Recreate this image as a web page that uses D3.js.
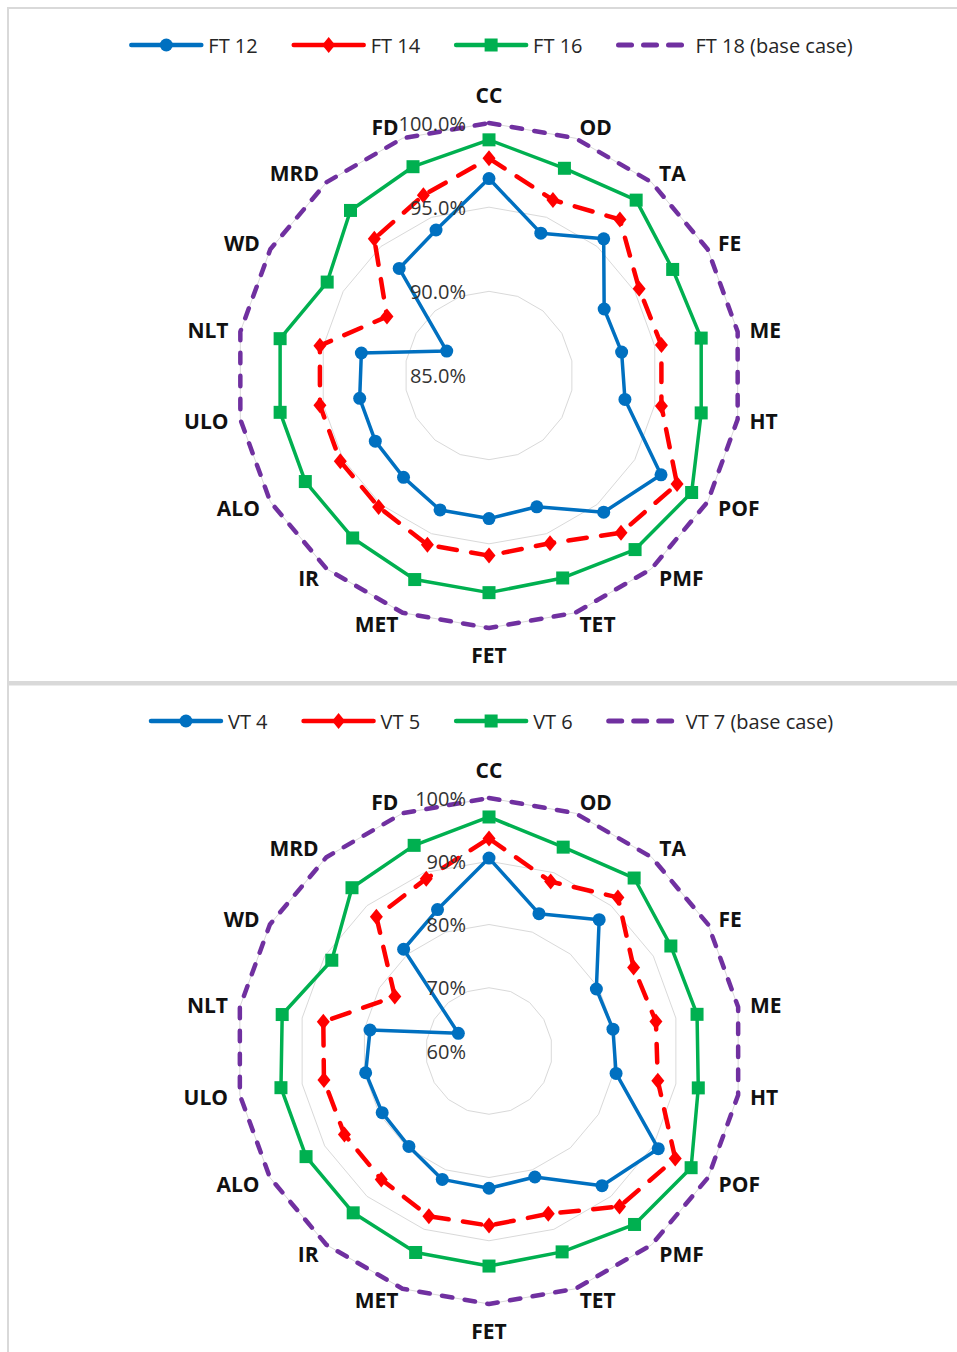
<!DOCTYPE html>
<html><head><meta charset="utf-8">
<script src="https://cdn.jsdelivr.net/npm/d3@7"></script>
<style>body{margin:0;background:#fff;} svg{display:block;}</style>
</head><body>
<svg id="chart" width="957" height="1352"></svg>
<script>
// ---------- DATA ----------
const categories = ["CC","OD","TA","FE","ME","HT","POF","PMF","TET","FET","MET","IR","ALO","ULO","NLT","WD","MRD","FD"];

const ftNames = ["FT 12","FT 14","FT 16","FT 18 (base case)"];
const ft12 = [96.7, 94.0, 95.6, 92.9, 93.0, 93.2, 96.8, 95.6, 93.3, 93.5, 93.5, 92.9, 92.8, 92.8, 92.7, 87.9, 93.3, 94.2];
const ft14 = [97.9, 96.1, 97.1, 95.3, 95.4, 95.4, 97.9, 97.2, 95.6, 95.7, 95.7, 95.2, 95.2, 95.2, 95.2, 92.0, 95.6, 96.4];
const ft16 = [99.0, 98.1, 98.6, 97.6, 97.8, 97.8, 98.9, 98.5, 97.8, 97.9, 97.9, 97.6, 97.6, 97.6, 97.6, 96.1, 97.8, 98.2];
const ft18 = [100, 100, 100, 100, 100, 100, 100, 100, 100, 100, 100, 100, 100, 100, 100, 100, 100, 100];
const ftTicks = [85, 90, 95, 100];
const ftTickLabels = ["85.0%", "90.0%", "95.0%", "100.0%"];

const vtNames = ["VT 4","VT 5","VT 6","VT 7 (base case)"];
const vt4 = [90.5, 83.1, 87.1, 79.6, 79.9, 80.4, 90.9, 87.8, 81.2, 81.7, 81.6, 79.7, 79.5, 79.8, 79.1, 65.6, 81.0, 83.8];
const vt5 = [93.6, 88.5, 91.7, 86.4, 86.8, 87.1, 94.0, 92.1, 87.4, 87.6, 87.8, 86.5, 86.4, 86.5, 86.6, 77.2, 87.7, 89.0];
const vt6 = [97.0, 94.3, 95.7, 93.2, 93.4, 93.6, 96.9, 95.8, 93.8, 94.0, 93.9, 93.4, 93.4, 93.4, 93.2, 88.7, 93.7, 94.6];
const vt7 = [100, 100, 100, 100, 100, 100, 100, 100, 100, 100, 100, 100, 100, 100, 100, 100, 100, 100];
const vtTicks = [60, 70, 80, 90, 100];
const vtTickLabels = ["60%", "70%", "80%", "90%", "100%"];

// ---------- STYLE ----------
const styles = [
  {color:"#0070C0", width:3.5, dash:null, marker:"circle"},
  {color:"#FF0000", width:4.5, dash:"18.5,14.5", marker:"diamond"},
  {color:"#00B050", width:3.5, dash:null, marker:"square"},
  {color:"#7030A0", width:4.5, dash:"10.5,12.5", marker:"none"}
];
const FONT = "'Open Sans', 'Liberation Sans', sans-serif";

const svg = d3.select("#chart");

// panels
svg.append("rect").attr("x",0).attr("y",0).attr("width",957).attr("height",1352).attr("fill","#fff");
svg.append("line").attr("x1",8).attr("x2",957).attr("y1",8).attr("y2",8).attr("stroke","#d9d9d9").attr("stroke-width",2);
svg.append("line").attr("x1",8).attr("x2",8).attr("y1",7).attr("y2",1352).attr("stroke","#d9d9d9").attr("stroke-width",2);
svg.append("rect").attr("x",8).attr("y",681).attr("width",949).attr("height",4.5).attr("fill","#d9d9d9");

function drawMarker(g, type, x, y, color) {
  if (type === "circle") {
    g.append("circle").attr("cx",x).attr("cy",y).attr("r",6.5).attr("fill",color);
  } else if (type === "square") {
    g.append("rect").attr("x",x-6.5).attr("y",y-6.5).attr("width",13).attr("height",13).attr("fill",color);
  } else if (type === "diamond") {
    g.append("path").attr("d",`M${x},${y-8}L${x+6.5},${y}L${x},${y+8}L${x-6.5},${y}Z`).attr("fill",color);
  }
}

function radar(cfg) {
  const {cx, cy, R, domain, ticks, tickLabels, names, series, legendY, legendCX} = cfg;
  const g = svg.append("g");
  const r = d3.scaleLinear().domain(domain).range([0, R]);
  const angle = d3.scalePoint().domain(categories).range([0, 2*Math.PI * (categories.length-1)/categories.length]);

  // grid polygons
  const gridLine = d3.lineRadial().angle(d => angle(d)).curve(d3.curveLinearClosed);
  ticks.filter(t => t > domain[0]).forEach(t => {
    g.append("path")
      .attr("d", gridLine.radius(() => r(t))(categories))
      .attr("transform", `translate(${cx},${cy})`)
      .attr("fill","none").attr("stroke","#d9d9d9").attr("stroke-width",1);
  });

  // series
  series.forEach((vals, si) => {
    const st = styles[si];
    const line = d3.lineRadial()
      .angle((d,i) => angle(categories[i]))
      .radius(d => r(d))
      .curve(d3.curveLinearClosed);
    g.append("path")
      .attr("d", line(vals))
      .attr("transform", `translate(${cx},${cy})`)
      .attr("fill","none")
      .attr("stroke", st.color)
      .attr("stroke-width", st.width)
      .attr("stroke-linecap", "round")
      .attr("stroke-linejoin","round")
      .attr("stroke-dasharray", st.dash);
    vals.forEach((v,i) => {
      const a = angle(categories[i]);
      const x = cx + r(v)*Math.sin(a), y = cy - r(v)*Math.cos(a);
      drawMarker(g, st.marker, x, y, st.color);
    });
  });

  // category labels
  const lr = R + 12;
  categories.forEach(c => {
    const a = angle(c);
    const s = Math.sin(a), co = Math.cos(a);
    const x = cx + lr*s, y = cy - lr*co;
    const t = g.append("text").text(c)
      .attr("font-family", FONT).attr("font-weight", 700).attr("font-size", 21)
      .attr("fill", "#111");
    if (Math.abs(s) < 1e-6) {
      t.attr("x", x).attr("text-anchor","middle")
       .attr("y", co > 0 ? y - 16 : y + 15).attr("dominant-baseline","central");
    } else {
      t.attr("x", x).attr("y", y).attr("dominant-baseline","central")
       .attr("text-anchor", s > 0 ? "start" : "end");
    }
  });

  // tick labels
  ticks.forEach((t, i) => {
    g.append("text").text(tickLabels[i])
      .attr("x", cx - 23).attr("y", cy - r(t))
      .attr("text-anchor","end").attr("dominant-baseline","central")
      .attr("font-family", FONT).attr("font-size", 20).attr("fill","#333");
  });

  // legend
  const lg = svg.append("g");
  const items = [];
  let xPos = 0;
  const GAP = 36;
  names.forEach((n, i) => {
    const it = lg.append("g");
    const st = styles[i];
    it.append("line").attr("x1", 0).attr("x2", 70).attr("y1", 0).attr("y2", 0)
      .attr("stroke", st.color).attr("stroke-width", i === 3 ? 5 : 4.5)
      .attr("stroke-linecap", "round")
      .attr("stroke-dasharray", i === 3 ? "13,12" : null);
    drawMarker(it, st.marker, 35, 0, st.color);
    const tx = it.append("text").text(n).attr("x", 77).attr("y", 0)
      .attr("dominant-baseline","central")
      .attr("font-family", FONT).attr("font-size", 20).attr("fill","#262626");
    const w = 77 + tx.node().getComputedTextLength();
    items.push({it, x: xPos});
    xPos += w + GAP;
  });
  const total = xPos - GAP;
  const start = legendCX - total/2;
  items.forEach(d => d.it.attr("transform", `translate(${start + d.x},${legendY})`));
}

radar({cx:489, cy:375.5, R:252.5, domain:[85,100], ticks:ftTicks, tickLabels:ftTickLabels,
       names:ftNames, series:[ft12, ft14, ft16, ft18], legendY:45, legendCX:492});
radar({cx:489, cy:1051, R:253, domain:[60,100], ticks:vtTicks, tickLabels:vtTickLabels,
       names:vtNames, series:[vt4, vt5, vt6, vt7], legendY:721, legendCX:492});
</script>
</body></html>
